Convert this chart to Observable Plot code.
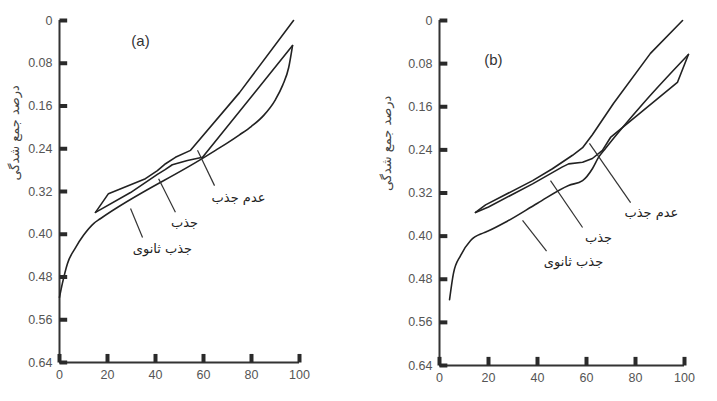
<!DOCTYPE html>
<html><head><meta charset="utf-8">
<script src="https://cdn.jsdelivr.net/npm/d3@7"></script>
<script src="https://cdn.jsdelivr.net/npm/@observablehq/plot@0.6"></script>
<style>
body{margin:0;background:#fff;}
#wrap{position:relative;width:717px;height:401px;overflow:hidden;background:#fff;}
#pa,#pb{position:absolute;top:0;}
#pa{left:0;} #pb{left:360px;}
</style></head><body>
<div id="wrap"><div id="pa"></div><div id="pb"></div></div>
<script>
// ---- tick labels / titles ----
const xTicks = [0, 20, 40, 60, 80, 100];
const yTicks = [0, 0.08, 0.16, 0.24, 0.32, 0.40, 0.48, 0.56, 0.64];
const yTitle = "درصد جمع شدگی";
const seriesNames = ["عدم جذب", "جذب", "جذب ثانوی"];

// ---- panel (a) series ----
const aNoAbsX = [15, 20.4, 35.8, 40.8, 44.2, 48.3, 54.6, 75, 97.5];
const aNoAbsY = [0.359, 0.324, 0.296, 0.281, 0.268, 0.256, 0.243, 0.135, 0.0];
const aAbsX = [15, 29.6, 40.8, 44, 47, 53.3, 59.6, 97.1];
const aAbsY = [0.359, 0.322, 0.288, 0.279, 0.270, 0.262, 0.256, 0.047];
const aSecX = [0, 1.2, 3.3, 6.7, 10, 14.2, 17, 59.6, 65, 70, 75, 80, 85, 90, 93, 95.5, 97.1];
const aSecY = [0.518, 0.492, 0.455, 0.425, 0.402, 0.380, 0.371, 0.258, 0.243, 0.229, 0.214, 0.198, 0.178, 0.148, 0.121, 0.088, 0.047];

// ---- panel (b) series ----
const bNoAbsX = [14.7, 18.8, 38, 46.1, 54.3, 58.4, 62.4, 71, 86.1, 99.2];
const bNoAbsY = [0.356, 0.342, 0.297, 0.275, 0.250, 0.236, 0.212, 0.154, 0.061, 0.0];
const bAbsX = [14.7, 20, 38, 50, 52.7, 58.4, 62.4, 66.5, 69.8, 97.1, 101.6];
const bAbsY = [0.356, 0.346, 0.303, 0.272, 0.266, 0.263, 0.256, 0.241, 0.217, 0.115, 0.063];
const bSecX = [4.1, 5.7, 8.6, 12.7, 18, 19.6, 27.8, 40, 52.7, 58.4, 62.4, 64.9, 67.8, 83.3, 101.6];
const bSecY = [0.518, 0.469, 0.436, 0.408, 0.394, 0.391, 0.372, 0.339, 0.306, 0.297, 0.275, 0.254, 0.237, 0.153, 0.063];

// ---- annotations (data coordinates): leader start/end and label position ----
const aLeadX1 = [57.5, 41.3, 29.6], aLeadY1 = [0.243, 0.296, 0.352];
const aLeadX2 = [64.6, 48.3, 34.6], aLeadY2 = [0.309, 0.359, 0.406];
const aLabX = [74.6, 52.1, 42.9], aLabY = [0.331, 0.378, 0.428];
const bLeadX1 = [61.2, 45.3, 33.9], bLeadY1 = [0.228, 0.297, 0.371];
const bLeadX2 = [78.0, 58.4, 43.7], bLeadY2 = [0.338, 0.384, 0.428];
const bLabX = [86.5, 64.9, 54.7], bLabY = [0.356, 0.404, 0.447];
const panelTags = ["(a)", "(b)"];
const tagX = [33.75, 22], tagY = [0.039, 0.074];
// inward tick length, in data units
const yTickLen = 3.2, xTickLen = 0.016;

const pts = (xs, ys, s) => xs.map((x, i) => ({x, y: ys[i], s}));
const ann = (x1, y1, x2, y2, lx, ly) => seriesNames.map((t, i) => ({x1: x1[i], y1: y1[i], x2: x2[i], y2: y2[i], lx: lx[i], ly: ly[i], t}));
const arabicFont = "DejaVu Sans, Noto Sans, sans-serif";
const yTickSegs = yTicks.map(v => ({x1: 0, x2: yTickLen, y1: v, y2: v}));
const xTickSegs = xTicks.map(v => ({x1: v, x2: v, y1: 0.64, y2: 0.64 - xTickLen}));

function panel({width, mL, mR, mT, mB, lines, notes, tag, tx, ty, titleDx, titleDy}) {
  const straight = lines.filter(d => d.s !== seriesNames[2]);
  const smooth = lines.filter(d => d.s === seriesNames[2]);
  return Plot.plot({
    width, height: 401, marginLeft: mL, marginRight: mR, marginTop: mT, marginBottom: mB,
    style: {background: "transparent", fontFamily: "Liberation Sans, Arial, sans-serif", fontSize: "12.5px"},
    x: {domain: [0, 100]},
    y: {domain: [0, 0.64], reverse: true},
    marks: [
      Plot.axisX(xTicks, {tickSize: 0, tickPadding: 8, fill: "#555", label: null}),
      Plot.axisY(yTicks, {tickSize: 0, tickPadding: 7, fill: "#555", label: null,
        tickFormat: d => d === 0 ? "0" : d.toFixed(2)}),
      Plot.ruleX([0], {stroke: "#333", strokeWidth: 2}),
      Plot.ruleY([0.64], {stroke: "#333", strokeWidth: 2}),
      Plot.line(straight, {x: "x", y: "y", z: "s", stroke: "#222", strokeWidth: 1.6, curve: "linear"}),
      Plot.line(smooth, {x: "x", y: "y", z: "s", stroke: "#222", strokeWidth: 1.6, curve: "monotone-x"}),
      Plot.link(notes, {x1: "x1", y1: "y1", x2: "x2", y2: "y2", stroke: "#333", strokeWidth: 1.2}),
      Plot.link(yTickSegs, {x1: "x1", x2: "x2", y1: "y1", y2: "y2", stroke: "#2a2a2a", strokeWidth: 4}),
      Plot.link(xTickSegs, {x1: "x1", x2: "x2", y1: "y1", y2: "y2", stroke: "#2a2a2a", strokeWidth: 4}),
      Plot.text(notes, {x: "lx", y: "ly", text: "t", fontFamily: arabicFont, fontSize: 13, fill: "#222"}),
      Plot.text([tag], {x: () => tx, y: () => ty, text: d => d, fontSize: 15, fill: "#333"}),
      Plot.text([yTitle], {frameAnchor: "left", dx: titleDx, dy: titleDy, rotate: -90, text: d => d,
        fontFamily: arabicFont, fontSize: 13, fill: "#444"})
    ]
  });
}

const linesA = [
  ...pts(aNoAbsX, aNoAbsY, seriesNames[0]),
  ...pts(aAbsX, aAbsY, seriesNames[1]),
  ...pts(aSecX, aSecY, seriesNames[2])
];
const linesB = [
  ...pts(bNoAbsX, bNoAbsY, seriesNames[0]),
  ...pts(bAbsX, bAbsY, seriesNames[1]),
  ...pts(bSecX, bSecY, seriesNames[2])
];

document.getElementById("pa").append(panel({
  width: 360, mL: 59, mR: 61, mT: 20, mB: 39, lines: linesA,
  notes: ann(aLeadX1, aLeadY1, aLeadX2, aLeadY2, aLabX, aLabY),
  tag: panelTags[0], tx: tagX[0], ty: tagY[0], titleDx: -45, titleDy: -11
}));
document.getElementById("pb").append(panel({
  width: 357, mL: 79, mR: 33, mT: 20, mB: 36, lines: linesB,
  notes: ann(bLeadX1, bLeadY1, bLeadX2, bLeadY2, bLabX, bLabY),
  tag: panelTags[1], tx: tagX[1], ty: tagY[1], titleDx: -53, titleDy: -2
}));
</script>
</body></html>
